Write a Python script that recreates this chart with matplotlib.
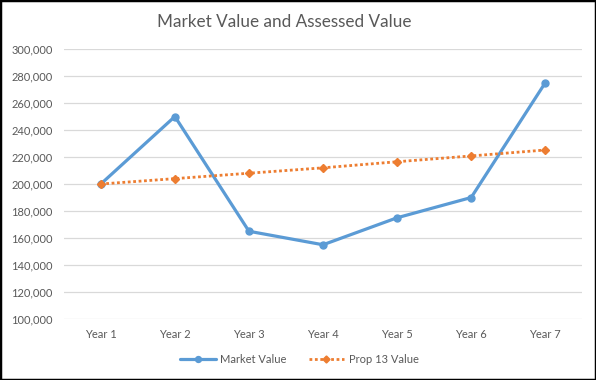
import matplotlib
matplotlib.use("Agg")
import matplotlib.pyplot as plt
from matplotlib.patches import Rectangle
from matplotlib.ticker import FuncFormatter, MultipleLocator

categories = ["Year 1", "Year 2", "Year 3", "Year 4", "Year 5", "Year 6", "Year 7"]
market_value = [200000, 250000, 165000, 155000, 175000, 190000, 275000]
prop13_value = [200000, 204000, 208000, 212000, 216500, 220800, 225200]

plt.rcParams['font.family'] = ['Lato', 'DejaVu Sans']

fig = plt.figure(figsize=(5.96, 3.80), dpi=100)
ax = fig.add_axes([0.107, 0.1605, 0.870, 0.7105])

x = list(range(len(categories)))
ax.plot(x, market_value, color="#5B9BD5", lw=2.3, marker="o", markersize=5,
        label="Market Value", solid_capstyle="round", zorder=3)
ax.plot(x, prop13_value, color="#ED7D31", lw=2.0, ls=(0, (1, 0.95)), marker="D",
        markersize=4.2, label="Prop 13 Value", zorder=4)

ax.set_xlim(-0.5, len(categories) - 0.5)
ax.set_ylim(100000, 300000)
ax.yaxis.set_major_locator(MultipleLocator(20000))
ax.yaxis.set_major_formatter(FuncFormatter(lambda v, p: f"{int(v):,}"))
ax.set_xticks(x)
ax.set_xticklabels(categories)
ax.grid(axis="y", color="#D9D9D9", lw=0.9)
ax.set_axisbelow(True)
for s in ax.spines.values():
    s.set_visible(False)
ax.tick_params(axis="both", length=0, labelsize=8, labelcolor="#595959")
ax.tick_params(axis="x", pad=7)
ax.tick_params(axis="y", pad=8)

fig.text(0.477, 0.942, "Market Value and Assessed Value", ha="center", va="center",
         fontsize=12.3, color="#595959")

fig.legend(loc="center", bbox_to_anchor=(0.502, 0.053), ncol=2, frameon=False,
           fontsize=8, labelcolor="#595959", handlelength=3.2, columnspacing=2.0,
           handletextpad=0.4, markerscale=0.85)

fig.patches.append(Rectangle((0, 0), 1, 1, transform=fig.transFigure, fill=False,
                             edgecolor="black", lw=2.5))

fig.savefig("out.png", dpi=100)
